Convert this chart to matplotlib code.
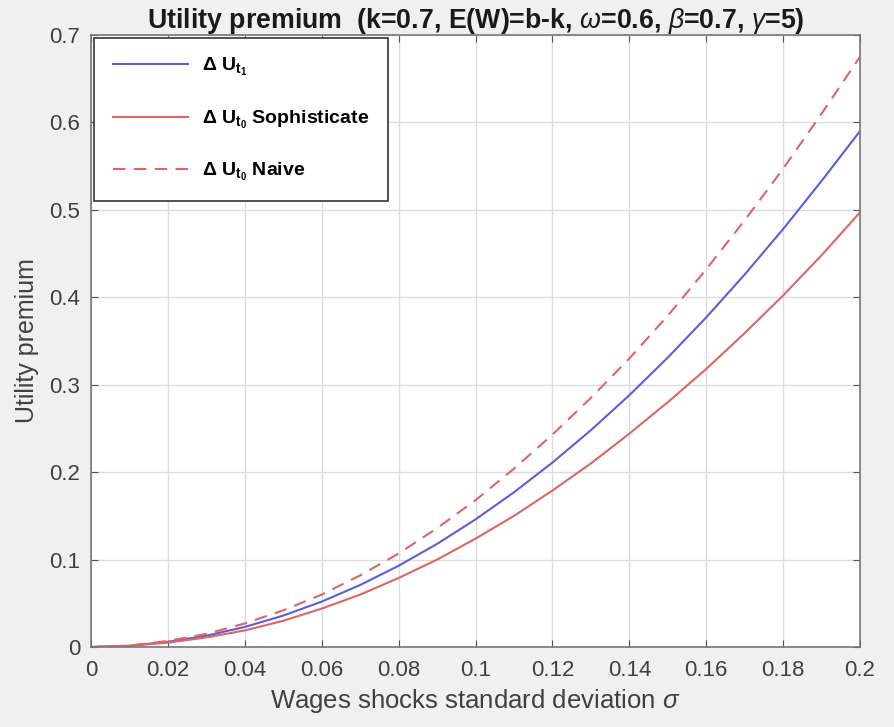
import matplotlib.pyplot as plt
import numpy as np

plt.rcParams['font.family'] = ['Liberation Sans', 'DejaVu Sans']
plt.rcParams['mathtext.fontset'] = 'custom'
plt.rcParams['mathtext.rm'] = 'Liberation Sans'
plt.rcParams['mathtext.it'] = 'Liberation Sans:italic'
plt.rcParams['mathtext.bf'] = 'Liberation Sans:bold'

sigma = [0.00, 0.01, 0.02, 0.03, 0.04, 0.05, 0.06, 0.07, 0.08, 0.09, 0.10,
         0.11, 0.12, 0.13, 0.14, 0.15, 0.16, 0.17, 0.18, 0.19, 0.20]
du_t1 = [0, 0.0015, 0.006, 0.013, 0.023, 0.036, 0.052, 0.071, 0.093, 0.118, 0.146,
         0.177, 0.211, 0.248, 0.288, 0.331, 0.377, 0.426, 0.478, 0.533, 0.590]
du_t0_soph = [0, 0.0013, 0.005, 0.011, 0.019, 0.030, 0.044, 0.060, 0.079, 0.100, 0.124,
              0.150, 0.179, 0.210, 0.244, 0.280, 0.318, 0.359, 0.402, 0.448, 0.497]
du_t0_naive = [0, 0.0017, 0.007, 0.015, 0.027, 0.042, 0.060, 0.082, 0.107, 0.136, 0.168,
               0.204, 0.243, 0.285, 0.330, 0.379, 0.432, 0.488, 0.547, 0.610, 0.675]
xtick_labels = ['0', '0.02', '0.04', '0.06', '0.08', '0.1', '0.12', '0.14', '0.16', '0.18', '0.2']
ytick_labels = ['0', '0.1', '0.2', '0.3', '0.4', '0.5', '0.6', '0.7']

fig = plt.figure(figsize=(8.94, 7.27), dpi=100, facecolor='#f0f0f0')
ax = fig.add_axes([0.102, 0.110, 0.860, 0.842])

ax.plot(sigma, du_t1, color='#5c5ce0', lw=1.5, label=r'$\mathbf{\Delta\ U_{t_1}}$')
ax.plot(sigma, du_t0_soph, color='#e06464', lw=1.5, label=r'$\mathbf{\Delta\ U_{t_0}}$ Sophisticate')
ax.plot(sigma, du_t0_naive, color='#e06464', lw=1.5, ls=(0, (6, 4)), label=r'$\mathbf{\Delta\ U_{t_0}}$ Naive')

ax.set_xlim(0, 0.2)
ax.set_ylim(0, 0.7)
ax.set_xticks(np.linspace(0, 0.2, 11))
ax.set_xticklabels(xtick_labels)
ax.set_yticks(np.linspace(0, 0.7, 8))
ax.set_yticklabels(ytick_labels)
ax.grid(True, color='#dcdcdc', lw=1)
ax.set_axisbelow(True)
ax.tick_params(direction='in', top=True, right=True, length=5, labelsize=16,
               colors='#555555', labelcolor='#404040')
ax.tick_params(axis='x', pad=9)
ax.tick_params(axis='y', pad=8)
for s in ax.spines.values():
    s.set_color('#777777')
    s.set_linewidth(1.2)

ax.set_title(r'Utility premium  (k=0.7, E(W)=b-k, $\omega$=0.6, $\beta$=0.7, $\gamma$=5)',
             fontsize=19.3, fontweight='bold', color='#1a1a1a', pad=5)
ax.set_xlabel(r'Wages shocks standard deviation $\sigma$', fontsize=18.5, color='#404040', labelpad=5)
ax.set_ylabel('Utility premium', fontsize=18, color='#404040', labelpad=7)

leg = ax.legend(loc='upper left', handlelength=3.9, labelspacing=1.55,
                borderpad=0.95, handletextpad=0.7, borderaxespad=0.15,
                fancybox=False, framealpha=1, edgecolor='#333333',
                prop={'weight': 'bold', 'size': 14})
leg.get_frame().set_linewidth(1.2)

fig.savefig('out.png', dpi=100, facecolor=fig.get_facecolor())
